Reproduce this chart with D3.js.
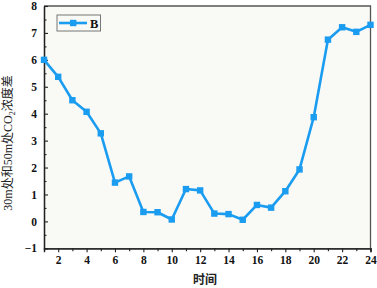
<!DOCTYPE html>
<html><head><meta charset="utf-8">
<script src="https://cdn.jsdelivr.net/npm/d3@7"></script>
<style>body{margin:0;background:#fff}svg{display:block}</style>
</head><body>
<script>
const hours = [1,2,3,4,5,6,7,8,9,10,11,12,13,14,15,16,17,18,19,20,21,22,23,24];
const valuesB = [6.0,5.37,4.5,4.07,3.27,1.44,1.67,0.35,0.34,0.07,1.2,1.15,0.29,0.27,0.06,0.61,0.51,1.12,1.93,3.87,6.75,7.21,7.04,7.3];
const xTicks = [2,4,6,8,10,12,14,16,18,20,22,24];
const yTicks = [-1,0,1,2,3,4,5,6,7,8];
const seriesName = "B";
const xTitle = "时间";

const W=377,H=288;
const m={l:44,t:6,r:370.5,b:248.3};
const svg=d3.select("body").append("svg").attr("width",W).attr("height",H);
svg.append("rect").attr("x",m.l).attr("y",m.t).attr("width",m.r-m.l).attr("height",m.b-m.t).attr("fill","#f9f9f6");
const x=d3.scaleLinear().domain([1,24]).range([m.l,m.r]);
const y=d3.scaleLinear().domain([-1,8]).range([m.b,m.t]);
const tf="'Liberation Serif','Times New Roman',serif";

svg.append("path").attr("d",`M${m.l},${m.t}H${m.r}V${m.b}`).attr("fill","none").attr("stroke","#555").attr("stroke-width",1.3);

svg.append("g").attr("transform",`translate(0,${m.b})`)
 .call(d3.axisBottom(x).tickValues(xTicks).tickSize(4).tickPadding(4).tickFormat(d3.format("d")));
svg.append("g").attr("transform",`translate(0,${m.b})`)
 .call(d3.axisBottom(x).tickValues(d3.range(1,24,2)).tickSize(3).tickFormat(""));
svg.append("g").attr("transform",`translate(${m.l},0)`)
 .call(d3.axisLeft(y).tickValues(yTicks).tickSizeInner(-4).tickSizeOuter(0).tickPadding(7));
svg.append("g").attr("transform",`translate(${m.l},0)`)
 .call(d3.axisLeft(y).tickValues(d3.range(-0.5,8,1)).tickSizeInner(-2.5).tickSizeOuter(0).tickFormat(""));
svg.selectAll(".domain").attr("stroke","#222").attr("stroke-width",1.3);
svg.selectAll(".tick line").attr("stroke","#222").attr("stroke-width",1.1);
svg.selectAll(".tick text").attr("font-family",tf).attr("font-weight","bold").attr("font-size",11.5).attr("fill","#111");

const col="#1a9cf0";
const pts=hours.map((h,i)=>[h,valuesB[i]]);
svg.append("path").datum(pts)
 .attr("d",d3.line().x(d=>x(d[0])).y(d=>y(d[1])))
 .attr("fill","none").attr("stroke",col).attr("stroke-width",2.6).attr("stroke-linejoin","round");
svg.selectAll("rect.pt").data(pts).enter().append("rect")
 .attr("x",d=>x(d[0])-3.2).attr("y",d=>y(d[1])-3.2).attr("width",6.4).attr("height",6.4).attr("fill",col);

const lg=svg.append("g");
lg.append("rect").attr("x",57).attr("y",15).attr("width",43.5).attr("height",16).attr("fill","none").attr("stroke","#777").attr("stroke-width",1);
lg.append("line").attr("x1",59).attr("x2",87).attr("y1",23).attr("y2",23).attr("stroke",col).attr("stroke-width",2.6);
lg.append("rect").attr("x",70).attr("y",19.8).attr("width",6.4).attr("height",6.4).attr("fill",col);
lg.append("text").attr("x",90).attr("y",27.5).text(seriesName).attr("font-family",tf).attr("font-weight","bold").attr("font-size",12.5).attr("fill","#111");

svg.append("text").attr("x",205).attr("y",284).attr("text-anchor","middle").text(xTitle)
 .attr("font-family","'Noto Sans CJK SC'").attr("font-size",12).attr("font-weight","bold").attr("fill","#222");
const yl=svg.append("text").attr("transform","translate(12,143) rotate(-90)").attr("text-anchor","middle")
 .attr("font-family",tf+",'Noto Sans CJK SC'").attr("font-size",12).attr("fill","#222");
yl.append("tspan").text("30m处和50m处CO");
yl.append("tspan").text("2").attr("font-size",8).attr("dy",3);
yl.append("tspan").text("浓度差").attr("dy",-3);
</script>
</body></html>
